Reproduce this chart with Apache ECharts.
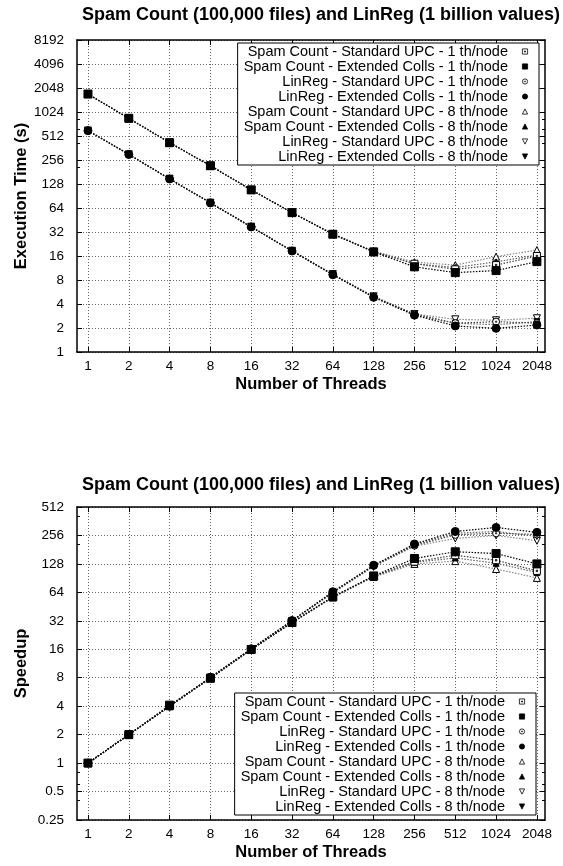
<!DOCTYPE html>
<html>
<head>
<meta charset="utf-8">
<script src="https://cdn.jsdelivr.net/npm/echarts@6/dist/echarts.min.js"></script>
<style>
  html, body { margin: 0; padding: 0; background: #fff; }
  #chart { width: 563px; height: 866px; }
</style>
</head>
<body>
<div id="chart"></div>
<script>
// Thread counts on the shared x axis
const threads = [1, 2, 4, 8, 16, 32, 64, 128, 256, 512, 1024, 2048];
const timeTicks = [1, 2, 4, 8, 16, 32, 64, 128, 256, 512, 1024, 2048, 4096, 8192];
const speedupTicks = [0.25, 0.5, 1, 2, 4, 8, 16, 32, 64, 128, 256, 512];

const seriesNames = [
  'Spam Count - Standard UPC - 1 th/node',
  'Spam Count - Extended Colls - 1 th/node',
  'LinReg - Standard UPC - 1 th/node',
  'LinReg - Extended Colls - 1 th/node',
  'Spam Count - Standard UPC - 8 th/node',
  'Spam Count - Extended Colls - 8 th/node',
  'LinReg - Standard UPC - 8 th/node',
  'LinReg - Extended Colls - 8 th/node'
];

// Execution time (s)
const timeSpamStd1 = [1720, 854, 422, 217, 108, 56, 30.2, 18.1, 12.8, 10.9, 12.3, 16.0];
const timeSpamExt1 = [1720, 854, 422, 217, 108, 56, 30.0, 18.0, 11.7, 9.9, 10.5, 13.6];
const timeLinStd1 = [600, 302, 149, 74.6, 37.3, 18.6, 9.4, 4.9, 3.0, 2.3, 2.4, 2.3];
const timeLinExt1 = [597, 300, 148, 74, 37, 18.5, 9.3, 4.85, 2.9, 2.12, 1.98, 2.18];
const timeSpamStd8 = [1720, 854, 422, 217, 108, 56, 30.4, 18.4, 13.4, 12.3, 15.7, 19.0];
const timeSpamExt8 = [1720, 854, 422, 217, 108, 56, 30.2, 18.2, 12.8, 11.5, 13.5, 16.5];
const timeLinStd8 = [600, 302, 149, 74.6, 37.3, 18.6, 9.5, 5.0, 3.0, 2.57, 2.5, 2.65];
const timeLinExt8 = [597, 300, 148, 74, 37, 18.5, 9.4, 4.9, 2.9, 2.3, 2.2, 2.4];

// Speedup
const spdSpamStd1 = [1, 2.0, 4.0, 7.9, 15.9, 30.7, 57, 95, 135, 158, 140, 108];
const spdSpamExt1 = [1, 2.0, 4.1, 7.9, 15.9, 30.7, 57.6, 95.5, 146, 172, 165, 128];
const spdLinStd1 = [1, 2.0, 4.0, 8.0, 16.1, 32, 64, 122, 200, 260, 270, 262];
const spdLinExt1 = [1, 2.0, 4.0, 8.1, 16.2, 32.2, 65, 124, 208, 282, 311, 276];
const spdSpamStd8 = [1, 2.0, 4.0, 7.9, 15.9, 30.6, 56.5, 93, 128, 137, 113, 91];
const spdSpamExt8 = [1, 2.0, 4.0, 7.9, 15.9, 30.6, 56.8, 94, 133, 148, 130, 104];
const spdLinStd8 = [1, 2.0, 4.0, 8.0, 16.0, 31.8, 63, 120, 197, 238, 256, 225];
const spdLinExt8 = [1, 2.0, 4.0, 8.0, 16.1, 32, 64, 122, 204, 270, 282, 250];

const timeData = [timeSpamStd1, timeSpamExt1, timeLinStd1, timeLinExt1,
                  timeSpamStd8, timeSpamExt8, timeLinStd8, timeLinExt8];
const speedupData = [spdSpamStd1, spdSpamExt1, spdLinStd1, spdLinExt1,
                     spdSpamStd8, spdSpamExt8, spdLinStd8, spdLinExt8];

const FONT = 'Liberation Sans, Arial, Helvetica, sans-serif';
// open markers carry a small centre dot, gnuplot style
const OPEN_SQ = 'path://M0,0H10V10H0Z M4,4H6V6H4Z';
const OPEN_CIRC = 'path://M5,0A5,5 0 1,1 4.99,0Z M5,4A1,1 0 1,1 4.99,4Z';
const DOWN_TRI = 'path://M0,0L10,0L5,9Z';

// Marker and line look for each of the eight series
const looks = [
  { symbol: OPEN_SQ,    size: 7, fill: '#fff', line: '#444' },
  { symbol: 'rect',     size: 8, fill: '#000', line: '#000' },
  { symbol: OPEN_CIRC,  size: 7, fill: '#fff', line: '#444' },
  { symbol: 'circle',   size: 8, fill: '#000', line: '#000' },
  { symbol: 'triangle', size: 7, fill: '#fff', line: '#888' },
  { symbol: 'triangle', size: 6, fill: '#000', line: '#666' },
  { symbol: DOWN_TRI,   size: 7, fill: '#fff', line: '#888' },
  { symbol: DOWN_TRI,   size: 6, fill: '#000', line: '#666' }
];

function makeSeries(dataSets, axisIdx) {
  return dataSets.map((vals, i) => ({
    name: seriesNames[i],
    type: 'line',
    xAxisIndex: axisIdx,
    yAxisIndex: axisIdx,
    data: threads.map((t, k) => [t, vals[k]]),
    symbol: looks[i].symbol,
    symbolSize: looks[i].size,
    showAllSymbol: true,
    animation: false,
    lineStyle: { color: looks[i].line, width: 1.2, type: [1.5, 1.5] },
    itemStyle: { color: looks[i].fill, borderColor: '#000', borderWidth: 1 },
    emphasis: { disabled: true },
    z: i < 4 ? 3 : 2
  }));
}

function xAxisFor(gridIndex, position) {
  const bottom = position === 'bottom';
  return {
    type: 'log', logBase: 2, gridIndex, position,
    min: 0.83, max: 2350,
    axisLine: { show: true, onZero: false, lineStyle: { color: '#000', width: 1.5 } },
    axisTick: { show: true, inside: true, length: 5, customValues: threads,
                lineStyle: { color: '#000', width: 1 } },
    axisLabel: { show: bottom, customValues: threads, color: '#000', fontSize: 13.5,
                 fontFamily: FONT, margin: 7, formatter: v => String(v) },
    splitLine: { show: bottom, lineStyle: { color: '#666', type: [1, 2], width: 1 } },
    name: bottom ? 'Number of Threads' : '',
    nameLocation: 'middle', nameGap: 24,
    nameTextStyle: { color: '#000', fontSize: 16.5, fontWeight: 'bold', fontFamily: FONT }
  };
}

function yAxisFor(gridIndex, position, ticks, name, nameGap) {
  const left = position === 'left';
  return {
    type: 'log', logBase: 2, gridIndex, position,
    min: ticks[0], max: ticks[ticks.length - 1], splitNumber: ticks.length - 1,
    axisLine: { show: true, onZero: false, lineStyle: { color: '#000', width: 1.5 } },
    axisTick: { show: true, inside: true, length: 5, customValues: ticks,
                lineStyle: { color: '#000', width: 1 } },
    minorTick: { show: true, splitNumber: 5, length: 3, lineStyle: { color: '#000', width: 1 } },
    axisLabel: { show: left, customValues: ticks, color: '#000', fontSize: 13.5,
                 fontFamily: FONT, margin: 13, formatter: v => String(v) },
    splitLine: { show: left, lineStyle: { color: '#666', type: [1, 2], width: 1 } },
    name: left ? name : '',
    nameLocation: 'middle', nameGap,
    nameMoveOverlap: false,
    nameTextStyle: { color: '#000', fontSize: 16.5, fontWeight: 'bold', fontFamily: FONT }
  };
}

function legendFor(top, right) {
  return {
    orient: 'vertical', align: 'right', top, right,
    itemWidth: 24, itemHeight: 6.5, itemGap: 0,
    padding: [1, 1, 1, 6],
    backgroundColor: '#fff', borderColor: '#000', borderWidth: 1,
    selectedMode: false,
    lineStyle: { opacity: 0 },
    itemStyle: { borderWidth: 0.8 },
    textStyle: { color: '#000', fontSize: 14.5, fontFamily: FONT, lineHeight: 14.6 },
    data: seriesNames.map(n => ({ name: n }))
  };
}

const title = 'Spam Count (100,000 files) and LinReg (1 billion values)';
const titleStyle = { fontSize: 18, fontWeight: 'bold', color: '#000', fontFamily: FONT };

const option = {
  animation: false,
  backgroundColor: '#fff',
  title: [
    { text: title, left: 77, top: 1, textStyle: titleStyle },
    { text: title, left: 77, top: 471, textStyle: titleStyle }
  ],
  grid: [
    { left: 77, right: 18, top: 40, height: 312 },
    { left: 77, right: 18, top: 507, height: 313 }
  ],
  xAxis: [
    xAxisFor(0, 'bottom'), xAxisFor(0, 'top'),
    xAxisFor(1, 'bottom'), xAxisFor(1, 'top')
  ],
  yAxis: [
    yAxisFor(0, 'left', timeTicks, 'Execution Time (s)', 47),
    yAxisFor(0, 'right', timeTicks, '', 0),
    yAxisFor(1, 'left', speedupTicks, 'Speedup', 47),
    yAxisFor(1, 'right', speedupTicks, '', 0)
  ],
  legend: [legendFor(43, 24), legendFor(693, 27)],
  series: [].concat(makeSeries(timeData, 0), makeSeries(speedupData, 2))
};

// Bottom chart series sit on the third x/y axes (indices 2)
const chart = echarts.init(document.getElementById('chart'), null, { renderer: 'canvas' });
chart.setOption(option);
</script>
</body>
</html>
